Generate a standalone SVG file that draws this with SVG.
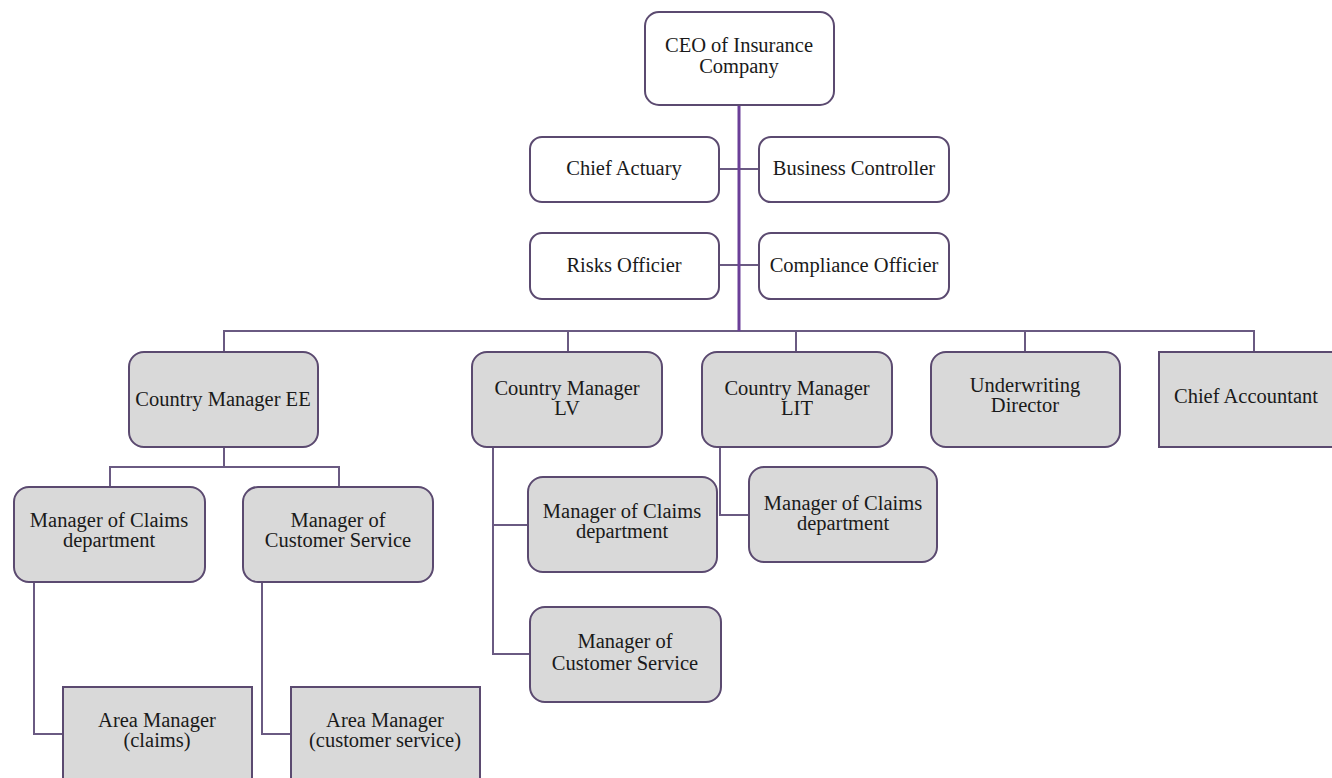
<svg xmlns="http://www.w3.org/2000/svg" width="1332" height="778" viewBox="0 0 1332 778">
  <style>
    .box { fill: #ffffff; stroke: #5b4a70; stroke-width: 2; }
    .sub { fill: #d9d9d9; stroke: #5b4a70; stroke-width: 2; }
    .lbl { font-family: 'Liberation Serif', 'DejaVu Serif', serif; font-size: 20.5px; fill: #1a1a1a; text-anchor: middle; }
    .trunk { stroke: #6b3f98; stroke-width: 3; fill: none; }
    .link { stroke: #6a5a82; stroke-width: 2; fill: none; }
  </style>
  <rect width="1332" height="778" fill="#ffffff"/>

  <!-- connectors -->
  <g id="connectors">
    <line class="link" x1="719" y1="169" x2="759" y2="169"/>
    <line class="link" x1="719" y1="265" x2="759" y2="265"/>
    <polyline class="link" points="224,352 224,331 1254,331 1254,352"/>
    <line class="link" x1="568" y1="331" x2="568" y2="352"/>
    <line class="link" x1="796" y1="331" x2="796" y2="352"/>
    <line class="link" x1="1025" y1="331" x2="1025" y2="352"/>
    <line class="trunk" x1="739" y1="105" x2="739" y2="331"/>
    <!-- Country Manager EE branch -->
    <line class="link" x1="224" y1="447" x2="224" y2="467"/>
    <polyline class="link" points="110,487 110,467 339,467 339,487"/>
    <polyline class="link" points="34,582 34,734 63,734"/>
    <polyline class="link" points="262,582 262,734 291,734"/>
    <!-- Country Manager LV branch -->
    <polyline class="link" points="493,447 493,654 530,654"/>
    <line class="link" x1="493" y1="525" x2="528" y2="525"/>
    <!-- Country Manager LIT branch -->
    <polyline class="link" points="720,447 720,515 749,515"/>
  </g>

  <g id="ceo">
    <rect class="box" x="645" y="12" width="189" height="93" rx="14"/>
    <text class="lbl" x="739" y="52">CEO of Insurance</text>
    <text class="lbl" x="739" y="73">Company</text>
  </g>
  <g id="chief-actuary">
    <rect class="box" x="530" y="137" width="189" height="65" rx="12"/>
    <text class="lbl" x="624" y="175">Chief Actuary</text>
  </g>
  <g id="business-controller">
    <rect class="box" x="759" y="137" width="190" height="65" rx="12"/>
    <text class="lbl" x="854" y="175">Business Controller</text>
  </g>
  <g id="risks-officier">
    <rect class="box" x="530" y="233" width="189" height="66" rx="12"/>
    <text class="lbl" x="624" y="272">Risks Officier</text>
  </g>
  <g id="compliance-officier">
    <rect class="box" x="759" y="233" width="190" height="66" rx="12"/>
    <text class="lbl" x="854" y="272">Compliance Officier</text>
  </g>

  <g id="country-manager-ee">
    <rect class="sub" x="129" y="352" width="189" height="95" rx="15"/>
    <text class="lbl" x="223" y="406">Country Manager EE</text>
  </g>
  <g id="country-manager-lv">
    <rect class="sub" x="472" y="352" width="190" height="95" rx="15"/>
    <text class="lbl" x="567" y="395">Country Manager</text>
    <text class="lbl" x="567" y="415">LV</text>
  </g>
  <g id="country-manager-lit">
    <rect class="sub" x="702" y="352" width="190" height="95" rx="15"/>
    <text class="lbl" x="797" y="395">Country Manager</text>
    <text class="lbl" x="797" y="415">LIT</text>
  </g>
  <g id="underwriting-director">
    <rect class="sub" x="931" y="352" width="189" height="95" rx="15"/>
    <text class="lbl" x="1025" y="392">Underwriting</text>
    <text class="lbl" x="1025" y="412">Director</text>
  </g>
  <g id="chief-accountant">
    <rect class="sub" x="1159" y="352" width="190" height="95"/>
    <text class="lbl" x="1246" y="403">Chief Accountant</text>
  </g>

  <g id="ee-claims">
    <rect class="sub" x="14" y="487" width="191" height="95" rx="15"/>
    <text class="lbl" x="109" y="527">Manager of Claims</text>
    <text class="lbl" x="109" y="547">department</text>
  </g>
  <g id="ee-customer-service">
    <rect class="sub" x="243" y="487" width="190" height="95" rx="15"/>
    <text class="lbl" x="338" y="527">Manager of</text>
    <text class="lbl" x="338" y="547">Customer Service</text>
  </g>
  <g id="lv-claims">
    <rect class="sub" x="528" y="477" width="189" height="95" rx="15"/>
    <text class="lbl" x="622" y="518">Manager of Claims</text>
    <text class="lbl" x="622" y="538">department</text>
  </g>
  <g id="lit-claims">
    <rect class="sub" x="749" y="467" width="188" height="95" rx="15"/>
    <text class="lbl" x="843" y="510">Manager of Claims</text>
    <text class="lbl" x="843" y="530">department</text>
  </g>
  <g id="lv-customer-service">
    <rect class="sub" x="530" y="607" width="191" height="95" rx="15"/>
    <text class="lbl" x="625" y="648">Manager of</text>
    <text class="lbl" x="625" y="670">Customer Service</text>
  </g>

  <g id="area-manager-claims">
    <rect class="sub" x="63" y="687" width="189" height="110"/>
    <text class="lbl" x="157" y="727">Area Manager</text>
    <text class="lbl" x="157" y="747">(claims)</text>
  </g>
  <g id="area-manager-customer-service">
    <rect class="sub" x="291" y="687" width="189" height="110"/>
    <text class="lbl" x="385" y="727">Area Manager</text>
    <text class="lbl" x="385" y="747">(customer service)</text>
  </g>
</svg>
